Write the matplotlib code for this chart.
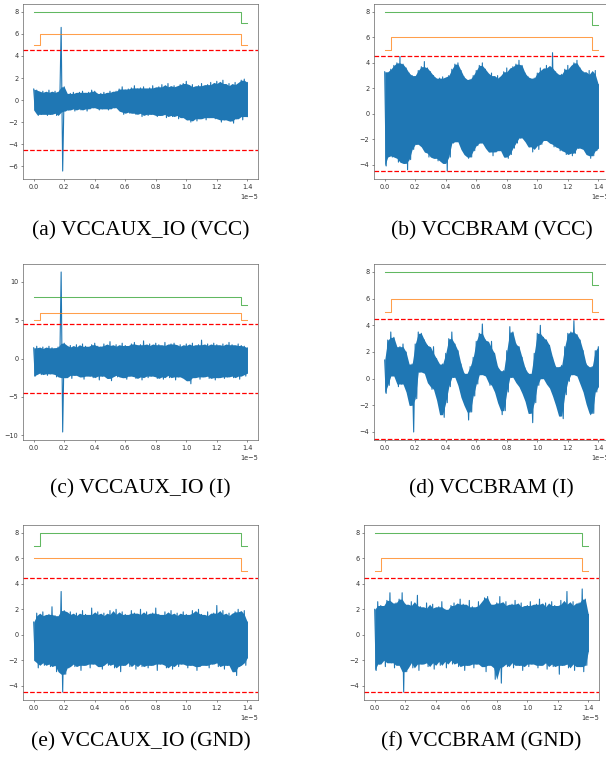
import numpy as np
import matplotlib
matplotlib.use("Agg")
import matplotlib.pyplot as plt

# sample grid (in units of 1e-5 s), one upper and one lower value per step
t_step = 0.02
n_pts = 71

# control lines (step plots), edges in units of 1e-5 s
step_t = [0.0, 0.04, 1.36, 1.40]
green_std = [8, 8, 7, 7]
orange_std = [5, 6, 5, 5]
green_gnd_io = [7, 8, 7, 7]
orange_gnd_io = [6, 6, 5, 5]

threshold = 4.5

# (a) VCCAUX_IO (VCC)
a_hi = [1.0, 0.9, 0.7, 0.8, 0.6, 0.9, 0.7, 0.8, 0.6, 6.6,
        1.2, 0.5, 0.6, 0.7, 0.6, 0.7, 0.8, 0.6, 0.7, 0.9,
        0.8, 0.5, 0.6, 0.7, 0.6, 0.8, 0.7, 0.8, 1.0, 1.2,
        0.9, 1.0, 1.1, 1.3, 1.0, 1.1, 1.2, 0.9, 1.1, 1.3,
        1.0, 1.2, 1.4, 1.1, 1.5, 1.2, 1.3, 1.1, 1.4, 1.5,
        1.7, 1.2, 1.4, 1.1, 1.3, 1.5, 1.2, 1.4, 1.6, 1.3,
        1.7, 1.5, 1.8, 1.3, 1.5, 1.2, 1.6, 1.4, 1.8, 1.9,
        1.6]
a_lo = [-0.9, -1.4, -1.3, -1.2, -1.4, -1.3, -1.2, -1.4, -1.1, -6.45,
        -1.0, -0.9, -0.8, -1.0, -0.7, -0.9, -0.8, -1.0, -0.8, -0.7,
        -0.6, -0.9, -0.8, -0.7, -0.9, -0.8, -0.7, -0.6, -1.0, -1.3,
        -1.1, -1.2, -1.0, -1.3, -1.2, -1.5, -1.2, -1.4, -1.3, -1.1,
        -1.5, -1.4, -1.2, -1.6, -1.3, -1.5, -1.4, -1.7, -1.3, -1.6,
        -1.8, -2.0, -1.6, -1.9, -1.7, -1.5, -1.8, -1.6, -1.4, -1.7,
        -1.6, -2.0, -1.8, -1.5, -1.9, -2.1, -1.7, -1.5, -1.8, -1.4,
        -1.5]

# (b) VCCBRAM (VCC)
b_hi = [3.3, 2.6, 3.5, 3.8, 4.0, 4.5, 3.9, 3.6, 3.2, 3.0,
        2.9, 3.4, 3.7, 4.1, 3.6, 3.3, 3.0, 2.7, 2.8, 2.9,
        2.6, 3.0, 3.5, 3.9, 4.0, 3.4, 2.9, 2.4, 2.7, 3.0,
        3.4, 3.8, 4.0, 3.5, 3.0, 3.2, 2.8, 3.0, 2.6, 3.3,
        3.6, 3.3, 3.7, 3.9, 4.2, 3.8, 3.2, 2.9, 2.6, 2.8,
        3.2, 3.6, 3.4, 3.8, 3.6, 4.8, 3.3, 2.9, 3.1, 3.5,
        3.8, 3.4, 4.0, 4.2, 3.6, 3.3, 3.0, 3.4, 3.1, 3.4,
        2.3]
b_lo = [-4.1, -2.8, -3.4, -3.3, -3.8, -3.5, -3.9, -4.4, -3.6, -2.8,
        -2.4, -2.0, -2.6, -3.0, -3.4, -3.1, -3.5, -3.7, -3.3, -3.9,
        -4.5, -3.4, -2.3, -1.9, -2.2, -2.8, -3.2, -3.5, -3.4, -2.9,
        -2.5, -2.1, -2.3, -2.7, -3.0, -3.3, -3.0, -2.6, -2.9, -3.4,
        -3.5, -3.2, -2.7, -2.3, -1.9, -1.8, -2.2, -2.6, -3.0, -2.5,
        -2.8, -2.4, -2.1, -2.0, -2.3, -2.6, -2.4, -2.9, -2.7, -3.2,
        -3.0, -3.3, -3.1, -2.7, -2.4, -2.8, -3.2, -3.5, -3.3, -2.9,
        -2.7]

# (c) VCCAUX_IO (I)
c_hi = [1.4, 1.6, 1.3, 1.5, 1.2, 1.6, 1.4, 1.3, 1.5, 11.3,
        2.0, 1.5, 1.7, 1.4, 1.8, 1.5, 1.9, 1.6, 1.4, 1.8,
        2.0, 1.6, 1.5, 1.9, 1.7, 2.2, 1.5, 1.8, 1.6, 2.0,
        1.7, 1.5, 1.9, 2.1, 1.6, 1.8, 2.3, 1.7, 1.9, 1.6,
        2.0, 1.8, 1.5, 2.1, 1.7, 1.9, 2.0, 1.6, 1.8, 1.5,
        1.9, 1.7, 2.0, 1.6, 1.8, 2.4, 1.7, 1.9, 1.5, 2.0,
        1.8, 1.6, 1.9, 1.7, 2.1, 1.8, 1.5, 1.9, 1.7, 1.6,
        1.4]
c_lo = [-2.3, -1.9, -2.1, -1.8, -2.2, -2.0, -1.9, -2.4, -2.1, -9.6,
        -2.5, -2.0, -2.6, -2.2, -2.0, -2.4, -2.7, -2.1, -2.3, -2.5,
        -2.0, -2.8, -2.3, -2.1, -2.6, -2.9, -2.2, -2.4, -2.0, -2.5,
        -2.7, -2.3, -2.1, -2.6, -2.4, -2.8, -2.2, -2.5, -2.3, -2.0,
        -2.6, -2.4, -2.7, -2.2, -2.5, -2.1, -2.8, -2.4, -2.3, -2.6,
        -2.9, -3.3, -2.5, -2.2, -2.7, -2.4, -2.1, -2.6, -2.3, -2.8,
        -2.5, -2.2, -2.6, -2.4, -2.0, -2.5, -2.3, -2.7, -2.1, -2.3,
        -1.9]

# (d) VCCBRAM (I)
d_hi = [1.4, 2.9, 3.5, 3.1, 2.1, 2.4, 2.6, 2.0, 0.9, 1.1,
        2.6, 3.5, 3.4, 2.9, 2.5, 1.9, 2.4, 1.5, 0.6, 1.1,
        1.9, 3.0, 3.5, 2.6, 2.1, 1.1, 0.4, 0.1, 0.9, 1.6,
        2.8, 3.4, 4.1, 2.9, 2.3, 2.8, 1.9, 0.9, 0.1, 0.6,
        2.1, 3.9, 3.5, 2.6, 2.4, 1.6, 0.8, 0.4, 0.1, 1.9,
        3.4, 4.0, 3.1, 2.9, 2.5, 1.6, 0.9, 0.5, 1.0, 2.4,
        3.4, 3.5, 4.35, 3.3, 2.9, 2.1, 1.1, 0.6, 0.9, 2.1,
        2.4]
d_lo = [-1.1, -0.5, 0.3, 0.2, -0.6, -0.4, -0.2, -1.0, -2.0, -4.0,
        -1.5, 0.5, 0.9, 0.4, -0.3, -0.8, -0.6, -1.6, -2.7, -2.9,
        -1.8, -0.6, 0.1, 0.2, -0.5, -1.4, -2.0, -3.1, -2.5, -1.3,
        -0.4, 0.3, 0.6, 0.2, -0.5, -0.3, -1.0, -1.8, -2.7, -2.4,
        -1.0, 0.1, 0.3, -0.3, -0.6, -1.1, -1.7, -2.6, -3.3, -1.8,
        -0.5, 0.0, 0.2, -0.4, -0.7, -1.3, -2.0, -2.8, -3.0, -1.2,
        -0.2, 0.3, 0.5, 0.2, -0.4, -1.0, -1.9, -2.7, -2.6, -1.0,
        -0.6]

# (e) VCCAUX_IO (GND)
e_hi = [1.0, 1.7, 1.5, 1.8, 1.4, 1.6, 2.2, 1.5, 1.3, 3.4,
        1.9, 1.6, 1.8, 1.5, 1.7, 1.4, 1.9, 1.6, 1.5, 2.1,
        1.6, 1.8, 1.4, 1.7, 1.5, 1.9, 1.6, 2.0, 1.5, 1.8,
        1.6, 1.4, 1.9, 1.7, 1.5, 2.0, 1.6, 1.8, 1.5, 1.7,
        2.1, 1.6, 1.4, 1.8, 1.6, 1.9, 1.5, 1.7, 1.4, 1.8,
        1.6, 1.5, 1.9, 1.7, 2.0, 1.6, 1.4, 1.8, 1.5, 1.7,
        2.3, 1.6, 1.9, 1.5, 1.7, 1.4, 1.8, 2.0, 1.6, 1.9,
        1.0]
e_lo = [-2.0, -2.6, -2.2, -2.4, -2.0, -2.5, -2.3, -2.9, -2.4, -4.5,
        -3.1, -2.6, -2.3, -2.5, -2.1, -2.8, -2.4, -2.2, -2.6, -2.3,
        -2.0, -2.5, -2.7, -2.2, -2.4, -2.1, -2.6, -2.3, -2.9, -2.4,
        -2.2, -2.5, -2.1, -2.7, -2.3, -2.5, -2.0, -2.6, -2.4, -2.2,
        -2.8, -2.3, -2.1, -2.6, -2.4, -2.7, -2.2, -2.5, -2.3, -2.0,
        -2.6, -2.4, -2.2, -2.8, -2.5, -2.1, -2.4, -2.6, -2.3, -2.0,
        -2.5, -2.2, -2.7, -2.4, -2.3, -2.9, -3.2, -2.5, -2.2, -2.4,
        -1.8]

# (f) VCCBRAM (GND)
f_hi = [2.0, 2.6, 2.3, 2.0, 2.7, 3.3, 2.2, 2.5, 2.8, 3.3,
        2.4, 2.0, 2.6, 2.3, 3.1, 2.2, 1.9, 2.5, 2.1, 2.4,
        1.8, 2.2, 2.6, 2.0, 1.9, 2.3, 2.5, 2.1, 2.8, 2.4,
        1.8, 2.7, 2.2, 2.0, 2.6, 2.3, 2.9, 3.0, 2.4, 2.1,
        2.5, 3.0, 2.3, 2.6, 2.0, 2.4, 2.7, 2.2, 2.5, 2.1,
        2.3, 2.6, 2.0, 2.4, 2.8, 2.2, 2.5, 2.0, 2.6, 2.3,
        2.1, 2.7, 2.4, 3.4, 2.3, 2.6, 2.0, 2.5, 3.6, 2.8,
        1.6]
f_lo = [-2.8, -2.3, -2.0, -2.5, -1.8, -2.2, -2.6, -2.0, -2.4, -4.5,
        -2.9, -2.2, -2.6, -2.0, -2.8, -2.3, -1.9, -2.5, -2.2, -2.7,
        -2.0, -2.4, -2.1, -2.6, -1.9, -2.3, -2.0, -2.5, -2.2, -2.8,
        -2.4, -2.1, -2.6, -2.3, -2.0, -2.5, -2.9, -2.2, -2.4, -3.5,
        -2.6, -3.8, -2.3, -2.5, -2.0, -2.6, -2.2, -2.4, -2.8, -2.1,
        -2.5, -2.3, -2.0, -2.6, -2.4, -2.2, -2.7, -2.1, -2.5, -2.3,
        -3.1, -2.4, -2.0, -2.6, -2.3, -2.8, -2.2, -2.5, -2.9, -2.4,
        -1.3]

captions = ["(a) VCCAUX_IO (VCC)", "(b) VCCBRAM (VCC)",
            "(c) VCCAUX_IO (I)", "(d) VCCBRAM (I)",
            "(e) VCCAUX_IO (GND)", "(f) VCCBRAM (GND)"]

BLUE = "#1f77b4"


def median3(v):
    # median of each reading and its two neighbours (drops lone spikes)
    p = np.concatenate([v[:1], v, v[-1:]])
    return np.median(np.vstack([p[:-2], p[1:-1], p[2:]]), axis=0)


def draw_panel(ax, hi, lo, green, orange):
    t = np.arange(n_pts) * t_step
    hi = np.array(hi)
    lo = np.array(lo)

    # solid core of the noise band
    ax.fill_between(t * 1e-5, median3(lo), median3(hi), color=BLUE, lw=0)

    # alternate upper / lower readings -> spiky noise edges
    xs = np.empty(2 * n_pts)
    ys = np.empty(2 * n_pts)
    xs[0::2] = t
    xs[1::2] = np.minimum(t + t_step / 2, t[-1])
    ys[0::2] = hi
    ys[1::2] = lo
    ax.plot(xs * 1e-5, ys, color=BLUE, lw=0.8)

    ax.plot(np.array(step_t) * 1e-5, orange, color="#ff7f0e", alpha=0.75,
            lw=0.75, drawstyle="steps-post")
    ax.plot(np.array(step_t) * 1e-5, green, color="#2ca02c", alpha=0.75,
            lw=0.75, drawstyle="steps-post")

    # thresholds should not change the autoscaled limits
    ylim = ax.get_ylim()
    ax.axhline(threshold, color="red", ls="--", lw=0.9)
    ax.axhline(-threshold, color="red", ls="--", lw=0.9)
    ax.set_ylim(ylim)
    for s in ax.spines.values():
        s.set_color("#555555")


plt.rcParams.update({
    "font.size": 4.7,
    "axes.linewidth": 0.45,
    "xtick.major.size": 1.7,
    "ytick.major.size": 1.7,
    "xtick.major.width": 0.4,
    "ytick.major.width": 0.4,
    "xtick.major.pad": 1.7,
    "ytick.major.pad": 1.7,
    "xtick.color": "#333333",
    "ytick.color": "#333333",
})

W, H = 606, 759
fig = plt.figure(figsize=(W / 100, H / 100), dpi=100)

# axes boxes in pixels: left, top, right, bottom
boxes = [(23, 4, 258, 179), (374, 4, 609, 179),
         (23, 264, 258, 440), (374, 264, 609, 440),
         (23, 525, 258, 700), (364, 525, 599, 700)]
caption_y = [231, 231, 489, 489, 742, 742]

panels = [(a_hi, a_lo, green_std, orange_std),
          (b_hi, b_lo, green_std, orange_std),
          (c_hi, c_lo, green_std, orange_std),
          (d_hi, d_lo, green_std, orange_std),
          (e_hi, e_lo, green_gnd_io, orange_gnd_io),
          (f_hi, f_lo, green_std, orange_std)]

for (l, t, r, b), cy, cap, (hi, lo, g, o) in zip(boxes, caption_y, captions, panels):
    ax = fig.add_axes([l / W, 1 - b / H, (r - l) / W, (b - t) / H])
    draw_panel(ax, hi, lo, g, o)
    fig.text((l + r) / 2 / W, 1 - cy / H, cap, ha="center", va="center",
             family="Liberation Serif", fontsize=15.5)

fig.savefig("out.png", dpi=100)
